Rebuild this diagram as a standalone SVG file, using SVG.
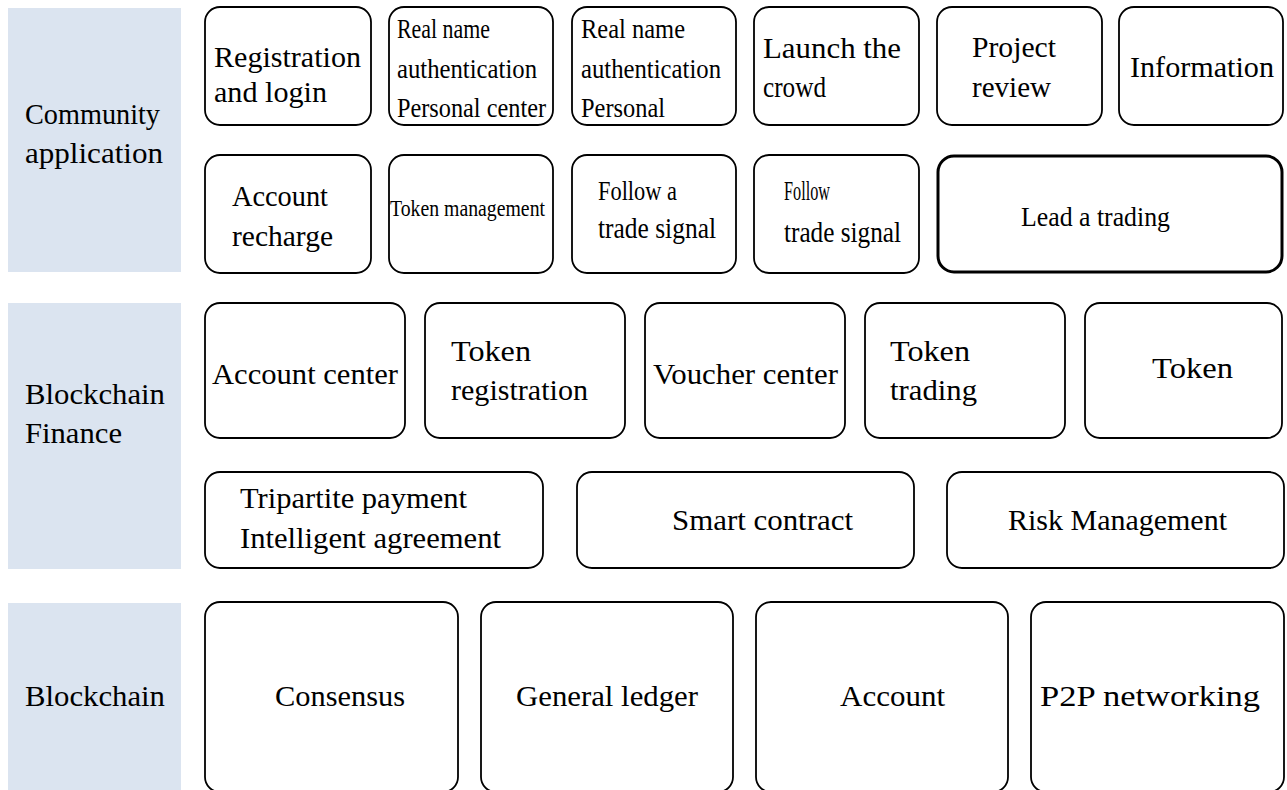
<svg xmlns="http://www.w3.org/2000/svg" width="1287" height="790" viewBox="0 0 1287 790">
<style>
.panel{fill:#dbe4f0;stroke:none}
.box{fill:#fff;stroke:#000;stroke-width:1.8}
.thick{stroke-width:3}
text{font-family:"Liberation Serif","Times New Roman",serif;fill:#000}
.t{font-size:29px}
.s{font-size:27px}
.xs{font-size:23px}
</style>
<rect width="1287" height="790" fill="#fff"/>

<g id="layer-community">
<rect class="panel" x="8" y="8" width="173" height="264"/>
<text class="t" x="25" y="124" textLength="135" lengthAdjust="spacingAndGlyphs">Community</text>
<text class="t" x="25" y="163" textLength="138" lengthAdjust="spacingAndGlyphs">application</text>
</g>
<g id="layer-finance">
<rect class="panel" x="8" y="303" width="173" height="266"/>
<text class="t" x="25" y="404" textLength="140" lengthAdjust="spacingAndGlyphs">Blockchain</text>
<text class="t" x="25" y="443" textLength="97" lengthAdjust="spacingAndGlyphs">Finance</text>
</g>
<g id="layer-blockchain">
<rect class="panel" x="8" y="603" width="173" height="187"/>
<text class="t" x="25" y="706" textLength="140" lengthAdjust="spacingAndGlyphs">Blockchain</text>
</g>

<g id="n-registration">
<rect class="box" x="205" y="7" width="166" height="118" rx="15"/>
<text class="t" x="214" y="67" textLength="147" lengthAdjust="spacingAndGlyphs">Registration</text>
<text class="t" x="214" y="102" textLength="113" lengthAdjust="spacingAndGlyphs">and login</text>
</g>
<g id="n-realname1">
<rect class="box" x="389" y="7" width="164" height="118" rx="15"/>
<text class="s" x="397" y="38" textLength="93" lengthAdjust="spacingAndGlyphs">Real name</text>
<text class="s" x="397" y="78" textLength="140" lengthAdjust="spacingAndGlyphs">authentication</text>
<text class="s" x="397" y="117" textLength="149" lengthAdjust="spacingAndGlyphs">Personal center</text>
</g>
<g id="n-realname2">
<rect class="box" x="572" y="7" width="164" height="118" rx="15"/>
<text class="s" x="581" y="38" textLength="104" lengthAdjust="spacingAndGlyphs">Real name</text>
<text class="s" x="581" y="78" textLength="140" lengthAdjust="spacingAndGlyphs">authentication</text>
<text class="s" x="581" y="117" textLength="84" lengthAdjust="spacingAndGlyphs">Personal</text>
</g>
<g id="n-launch">
<rect class="box" x="754" y="7" width="165" height="118" rx="15"/>
<text class="t" x="763" y="58" textLength="138" lengthAdjust="spacingAndGlyphs">Launch the</text>
<text class="t" x="763" y="97" textLength="63" lengthAdjust="spacingAndGlyphs">crowd</text>
</g>
<g id="n-review">
<rect class="box" x="937" y="7" width="165" height="118" rx="15"/>
<text class="t" x="972" y="57" textLength="84" lengthAdjust="spacingAndGlyphs">Project</text>
<text class="t" x="972" y="97" textLength="79" lengthAdjust="spacingAndGlyphs">review</text>
</g>
<g id="n-information">
<rect class="box" x="1119" y="7" width="164" height="118" rx="15"/>
<text class="t" x="1130" y="77" textLength="144" lengthAdjust="spacingAndGlyphs">Information</text>
</g>

<g id="n-recharge">
<rect class="box" x="205" y="155" width="166" height="118" rx="15"/>
<text class="t" x="232" y="206" textLength="96" lengthAdjust="spacingAndGlyphs">Account</text>
<text class="t" x="232" y="246" textLength="101" lengthAdjust="spacingAndGlyphs">recharge</text>
</g>
<g id="n-token-mgmt">
<rect class="box" x="389" y="155" width="164" height="118" rx="15"/>
<text class="xs" x="390" y="216" textLength="155" lengthAdjust="spacingAndGlyphs">Token management</text>
</g>
<g id="n-follow-a">
<rect class="box" x="572" y="155" width="164" height="118" rx="15"/>
<text class="s" x="598" y="200" textLength="79" lengthAdjust="spacingAndGlyphs">Follow a</text>
<text class="t" x="598" y="238" textLength="118" lengthAdjust="spacingAndGlyphs">trade signal</text>
</g>
<g id="n-follow">
<rect class="box" x="754" y="155" width="165" height="118" rx="15"/>
<text class="s" x="784" y="200" textLength="46" lengthAdjust="spacingAndGlyphs">Follow</text>
<text class="t" x="784" y="242" textLength="117" lengthAdjust="spacingAndGlyphs">trade signal</text>
</g>
<g id="n-lead">
<rect class="box thick" x="938" y="156" width="344" height="116" rx="16"/>
<text class="s" x="1021" y="226" textLength="149" lengthAdjust="spacingAndGlyphs">Lead a trading</text>
</g>

<g id="n-account-center">
<rect class="box" x="205" y="303" width="200" height="135" rx="15"/>
<text class="t" x="212" y="384" textLength="186" lengthAdjust="spacingAndGlyphs">Account center</text>
</g>
<g id="n-token-reg">
<rect class="box" x="425" y="303" width="200" height="135" rx="15"/>
<text class="t" x="451" y="361" textLength="80" lengthAdjust="spacingAndGlyphs">Token</text>
<text class="t" x="451" y="400" textLength="137" lengthAdjust="spacingAndGlyphs">registration</text>
</g>
<g id="n-voucher">
<rect class="box" x="645" y="303" width="200" height="135" rx="15"/>
<text class="t" x="653" y="384" textLength="185" lengthAdjust="spacingAndGlyphs">Voucher center</text>
</g>
<g id="n-token-trading">
<rect class="box" x="865" y="303" width="200" height="135" rx="15"/>
<text class="t" x="890" y="361" textLength="80" lengthAdjust="spacingAndGlyphs">Token</text>
<text class="t" x="890" y="400" textLength="87" lengthAdjust="spacingAndGlyphs">trading</text>
</g>
<g id="n-token">
<rect class="box" x="1085" y="303" width="197" height="135" rx="15"/>
<text class="t" x="1152" y="378" textLength="81" lengthAdjust="spacingAndGlyphs">Token</text>
</g>

<g id="n-tripartite">
<rect class="box" x="205" y="472" width="338" height="96" rx="15"/>
<text class="t" x="240" y="508" textLength="227" lengthAdjust="spacingAndGlyphs">Tripartite payment</text>
<text class="t" x="240" y="548" textLength="261" lengthAdjust="spacingAndGlyphs">Intelligent agreement</text>
</g>
<g id="n-smart-contract">
<rect class="box" x="577" y="472" width="337" height="96" rx="15"/>
<text class="t" x="672" y="530" textLength="181" lengthAdjust="spacingAndGlyphs">Smart contract</text>
</g>
<g id="n-risk">
<rect class="box" x="947" y="472" width="337" height="96" rx="15"/>
<text class="t" x="1008" y="530" textLength="219" lengthAdjust="spacingAndGlyphs">Risk Management</text>
</g>

<g id="n-consensus">
<rect class="box" x="205" y="602" width="253" height="190" rx="15"/>
<text class="t" x="275" y="706" textLength="130" lengthAdjust="spacingAndGlyphs">Consensus</text>
</g>
<g id="n-ledger">
<rect class="box" x="481" y="602" width="252" height="190" rx="15"/>
<text class="t" x="516" y="706" textLength="182" lengthAdjust="spacingAndGlyphs">General ledger</text>
</g>
<g id="n-account">
<rect class="box" x="756" y="602" width="252" height="190" rx="15"/>
<text class="t" x="840" y="706" textLength="105" lengthAdjust="spacingAndGlyphs">Account</text>
</g>
<g id="n-p2p">
<rect class="box" x="1031" y="602" width="253" height="190" rx="15"/>
<text class="t" x="1040" y="706" textLength="220" lengthAdjust="spacingAndGlyphs">P2P networking</text>
</g>

<g id="connectors"></g>
</svg>
